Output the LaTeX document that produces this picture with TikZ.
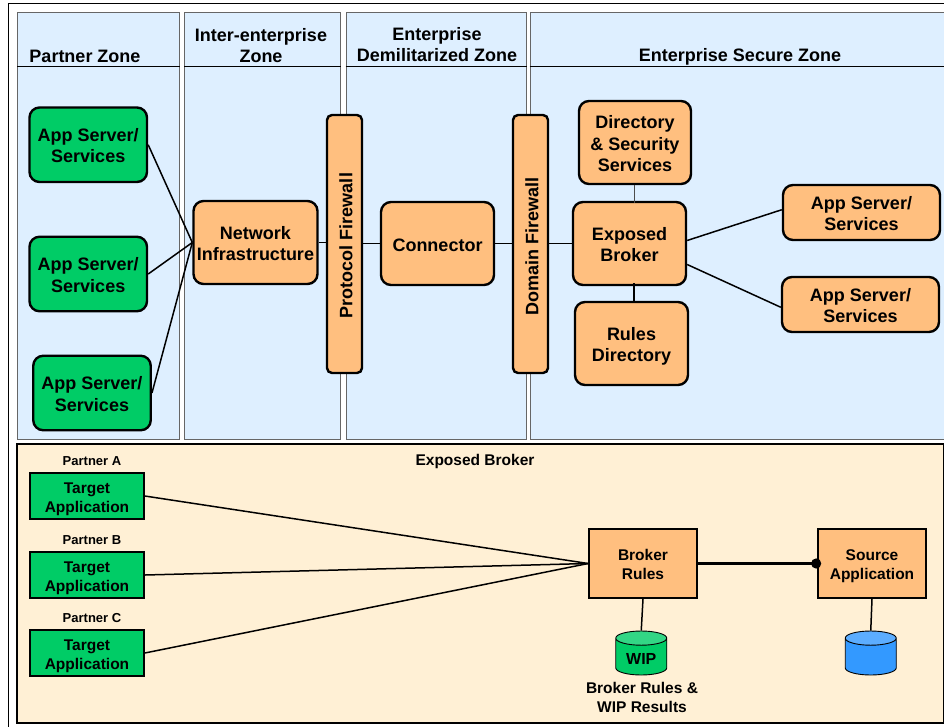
\documentclass[tikz,border=0pt]{standalone}
\usepackage{fontspec}
\setmainfont{Liberation Sans}
\usetikzlibrary{shapes.geometric, arrows.meta}
\definecolor{zonefill}{HTML}{DEEFFF}
\definecolor{panelfill}{HTML}{FFF0D5}
\definecolor{srvorange}{HTML}{FFBF7F}
\definecolor{srvgreen}{HTML}{00CC66}
\definecolor{dbblue}{HTML}{3399FF}
\begin{document}
\begin{tikzpicture}[
        x=1pt, y=-1pt, % Координаты как в пикселях
        zone/.style={draw=black!60, fill=zonefill, line width=1pt, inner sep=0pt},
        zonetitle/.style={align=center, font=\fontsize{18}{21}\selectfont\bfseries},
        srv/.style={draw, rounded corners=10pt, line width=2.4pt, align=center, inner sep=0pt,
                text height=36.4pt, text depth=0pt,
                font=\fontsize{18}{21.5}\selectfont\bfseries}, % Стиль серверов
        wall/.style={draw, fill=srvorange, rounded corners=5pt, line width=2.4pt, inner sep=0pt,
                minimum width=35pt, minimum height=258pt},
        walltext/.style={rotate=90, font=\fontsize{18}{21}\selectfont\bfseries},
        appbox/.style={draw, line width=1.7pt, align=center, inner sep=0pt,
                text height=32.2pt, text depth=0pt,
                font=\fontsize{15.5}{19}\selectfont\bfseries},
        store/.style={cylinder, shape border rotate=90, aspect=0.47, draw, line width=0.9pt, inner sep=0pt,
                minimum width=51pt, minimum height=44pt, cylinder uses custom fill,
                text height=15.5pt, text depth=0pt,
                font=\fontsize{16}{19}\selectfont\bfseries},
        smalltext/.style={align=center, font=\fontsize{13}{15}\selectfont\bfseries},
        link/.style={draw, line width=1.5pt},
    ]
    \useasboundingbox (0,0) rectangle (944,726);

    % Зоны
    \draw[line width=1pt] (8,3.5) -- (8,730);
    \draw[line width=1pt] (8,3.5) -- (950,3.5);
    \node[zone, minimum width=162pt, minimum height=427pt] (partner) at (98.5,225.5) {};
    \node[zone, minimum width=155.5pt, minimum height=427pt] (inter) at (262.25,225.5) {};
    \node[zone, minimum width=180pt, minimum height=427pt] (dmz) at (436,225.5) {};
    \node[zone, minimum width=420pt, minimum height=427pt] (secure) at (740,225.5) {};
    \foreach \z in {partner, inter, dmz, secure}
    \draw[line width=0.9pt] ([yshift=-54.5pt]\z.north west) -- ([yshift=-54.5pt]\z.north east);

    \node[zonetitle] (partnertitle) at (85,56) {Partner Zone};
    \node[zonetitle] (intertitle) at (261,45.5) {Inter-enterprise\\Zone};
    \node[zonetitle] (dmztitle) at (437,44.5) {Enterprise\\Demilitarized Zone};
    \node[zonetitle] (securetitle) at (740,57) {Enterprise Secure Zone};

    % Серверы
    \node[srv, fill=srvgreen, minimum width=117.5pt, minimum height=74.5pt] (appa) at (88.25,144.75) {App Server/\\Services};
    \node[srv, fill=srvgreen, minimum width=117.5pt, minimum height=74.5pt] (appb) at (88.25,274) {App Server/\\Services};
    \node[srv, fill=srvgreen, minimum width=117.5pt, minimum height=74.5pt] (appc) at (92,393) {App Server/\\Services};
    \node[srv, fill=srvorange, minimum width=124pt, minimum height=83pt] (network) at (255.5,242.5) {Network\\Infrastructure};
    \node[wall] (protocol) at (344.5,244) {};
    \node[walltext] (protocoltext) at (346,245.5) {Protocol Firewall};
    \node[srv, fill=srvorange, minimum width=113pt, minimum height=83pt, text height=15pt] (connector) at (437.5,243.5) {Connector};
    \node[wall] (domain) at (530.5,244) {};
    \node[walltext] (domaintext) at (532,246) {Domain Firewall};
    \node[srv, fill=srvorange, minimum width=112pt, minimum height=83pt, text height=58pt] (directory) at (635,142.5) {Directory\\\& Security\\Services};
    \node[srv, fill=srvorange, minimum width=113pt, minimum height=83pt] (exposed) at (629.5,243.5) {Exposed\\Broker};
    \node[srv, fill=srvorange, minimum width=113pt, minimum height=83pt] (rules) at (631.5,343.5) {Rules\\Directory};
    \node[srv, fill=srvorange, minimum width=157pt, minimum height=55pt] (appd) at (861.5,212.5) {App Server/\\Services};
    \node[srv, fill=srvorange, minimum width=157pt, minimum height=55pt] (appe) at (860.5,304.5) {App Server/\\Services};

    \foreach \a in {appa, appb, appc}
    \draw[link] (\a.east) -- (network.west);
    \draw[link] (network.east) -- (protocol.west |- network.east);
    \draw[link] (protocol.east |- connector.west) -- (connector.west);
    \draw[link] (connector.east) -- (domain.west |- connector.east);
    \draw[link] (domain.east |- exposed.west) -- (exposed.west);
    \draw[line width=0.9pt, draw=black!70] (directory.south -| exposed.north) ++(4.5,0) -- ++(0,18);
    \draw[link] (rules.north -| exposed.south) ++(4.5,0) -- ++(0,-18);
    \draw[link] (exposed.3.5) -- (appd.178);
    \draw[link] (exposed.-20) -- (appe.182);

    % Нижняя панель
    \node[draw, fill=panelfill, line width=1.6pt, inner sep=0pt, minimum width=926.5pt, minimum height=279pt] (panel) at (480.25,583.5) {};
    \node[smalltext, font=\fontsize{15.5}{19}\selectfont\bfseries] (paneltitle) at (475,461) {Exposed Broker};
    \node[smalltext] (parta) at (92,461) {Partner A};
    \node[smalltext] (partb) at (92,540) {Partner B};
    \node[smalltext] (partc) at (92,618) {Partner C};
    \node[appbox, fill=srvgreen, minimum width=114pt, minimum height=46pt] (targeta) at (87,496) {Target\\Application};
    \node[appbox, fill=srvgreen, minimum width=114pt, minimum height=46pt] (targetb) at (87,575) {Target\\Application};
    \node[appbox, fill=srvgreen, minimum width=114pt, minimum height=46pt] (targetc) at (87,653) {Target\\Application};
    \node[appbox, fill=srvorange, minimum width=108pt, minimum height=69pt] (brokerrules) at (643,563.5) {Broker\\Rules};
    \node[appbox, fill=srvorange, minimum width=108pt, minimum height=69pt] (source) at (872,563.5) {Source\\Application};
    \node[store, anchor=shape center, cylinder body fill=srvgreen, cylinder end fill=srvgreen!80!white] (wip) at (641.25,653) {WIP};
    \node[store, anchor=shape center, cylinder body fill=dbblue, cylinder end fill=dbblue!80!white] (srcdb) at (870.75,653) {\phantom{WIP}};
    \node[smalltext, font=\fontsize{15.5}{19}\selectfont\bfseries] (wipnote) at (642,697) {Broker Rules \&\\WIP Results};

    \foreach \t in {targeta, targetb, targetc}
    \draw[link] (\t.east) -- (brokerrules.west);
    \draw[line width=2.2pt, -{Circle[length=10pt]}, shorten >=-4pt] (brokerrules.east) -- (source.west);
    \draw[link] (brokerrules.south) -- (wip.north);
    \draw[link] (source.south) -- (srcdb.north);
\end{tikzpicture}
\end{document}
